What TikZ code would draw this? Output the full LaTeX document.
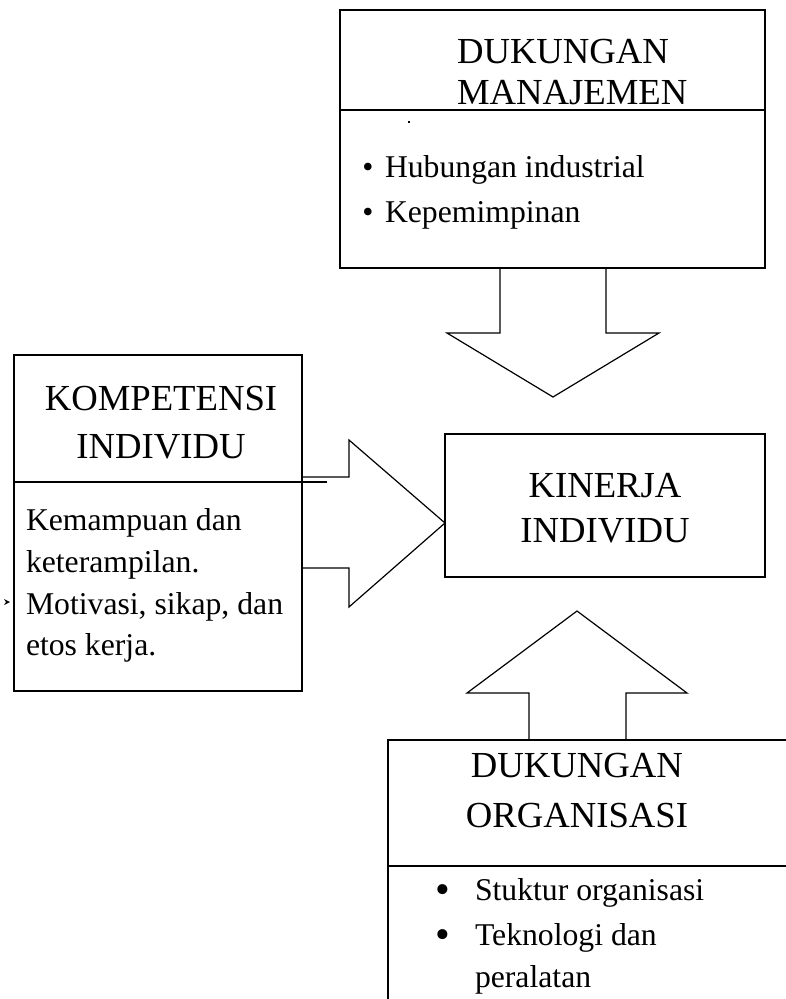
\documentclass[tikz,border=0pt]{standalone}
\usepackage{fontspec}
\setmainfont{Liberation Serif}
\usetikzlibrary{positioning}

\newcommand{\bigbullet}{{\fontsize{42}{42}\selectfont\textbullet}}

\begin{document}
\begin{tikzpicture}[
  x=1pt, y=-1pt,
  every node/.style={inner sep=0pt, outer sep=0pt},
  box/.style={draw, line width=1.2pt, anchor=north west},
  title/.style={font=\fontsize{36.7}{40}\selectfont, anchor=base west},
  item/.style={font=\fontsize{31.7}{42}\selectfont, anchor=base west},
  blockarrow/.style={draw, line width=1.2pt, line join=miter},
  joint/.style={line width=2.6pt}
]
\useasboundingbox (0,0) rectangle (786,999);
\clip (0,0) rectangle (786,999);

% Boxes
\node[box, minimum width=425pt, minimum height=258pt] (manajemen) at (340,10) {};
\node[box, minimum width=288pt, minimum height=336pt] (kompetensi) at (14,355) {};
\node[box, minimum width=320pt, minimum height=143pt] (kinerja) at (445,434) {};
\node[box, minimum width=425pt, minimum height=300pt] (organisasi) at (388,740) {};

% Dividers
\draw[line width=1.2pt] ([yshift=-100pt]manajemen.north west) -- ([yshift=-100pt]manajemen.north east);
\draw[line width=1.2pt] ([yshift=-127pt]kompetensi.north west) -- ([yshift=-127pt,xshift=25pt]kompetensi.north east);
\draw[line width=1.2pt] ([yshift=-126pt]organisasi.north west) -- ([yshift=-126pt]organisasi.north east);

% Texts
\node[title] (manajemen_t1) at (457,63) {DUKUNGAN};
\node[title] (manajemen_t2) at (457,104) {MANAJEMEN};
\node[item, anchor=base] (manajemen_b1) at (368,177) {\textbullet};
\node[item] (manajemen_i1) at (385,177) {Hubungan industrial};
\node[item, anchor=base] (manajemen_b2) at (368,222) {\textbullet};
\node[item] (manajemen_i2) at (385,222) {Kepemimpinan};

\node[title, anchor=base] (kompetensi_t1) at (161,410) {KOMPETENSI};
\node[title, anchor=base] (kompetensi_t2) at (161,458) {INDIVIDU};
\node[item] (kompetensi_i1) at (26,530) {Kemampuan dan};
\node[item] (kompetensi_i2) at (26,572) {keterampilan.};
\node[item] (kompetensi_i3) at (26,614) {Motivasi, sikap, dan};
\node[item] (kompetensi_i4) at (26,655) {etos kerja.};

\node[title, anchor=base] (kinerja_t1) at (605,497) {KINERJA};
\node[title, anchor=base] (kinerja_t2) at (605,542) {INDIVIDU};

\node[title, anchor=base] (organisasi_t1) at (577,777) {DUKUNGAN};
\node[title, anchor=base] (organisasi_t2) at (577,827) {ORGANISASI};
\node[item, anchor=base] (organisasi_b1) at (443,903) {\bigbullet};
\node[item] (organisasi_i1) at (475,900) {Stuktur organisasi};
\node[item, anchor=base] (organisasi_b2) at (443,948) {\bigbullet};
\node[item] (organisasi_i2) at (475,945) {Teknologi dan};
\node[item] (organisasi_i3) at (475,987) {peralatan};

% Arrows
\draw[blockarrow] (500,268) -- (500,333) -- (447,333) -- (553,397) -- (659,333) -- (606,333) -- (606,268);
\draw[joint] (465,268) -- (633,268);

\draw[blockarrow] (302,477) -- (349,477) -- (349,440) -- (445,523) -- (349,607) -- (349,568) -- (302,568);
\draw[joint] (302,455) -- (302,578);

\draw[blockarrow] (529,740) -- (529,693) -- (467,693) -- (577,611) -- (687,693) -- (626,693) -- (626,740);
\draw[joint] (501,740) -- (633,740);

% Marks
\fill (408,121) rectangle (410,123);
\fill (4,599) -- (10,602) -- (4,605) -- (6,602) -- cycle;

\end{tikzpicture}
\end{document}
